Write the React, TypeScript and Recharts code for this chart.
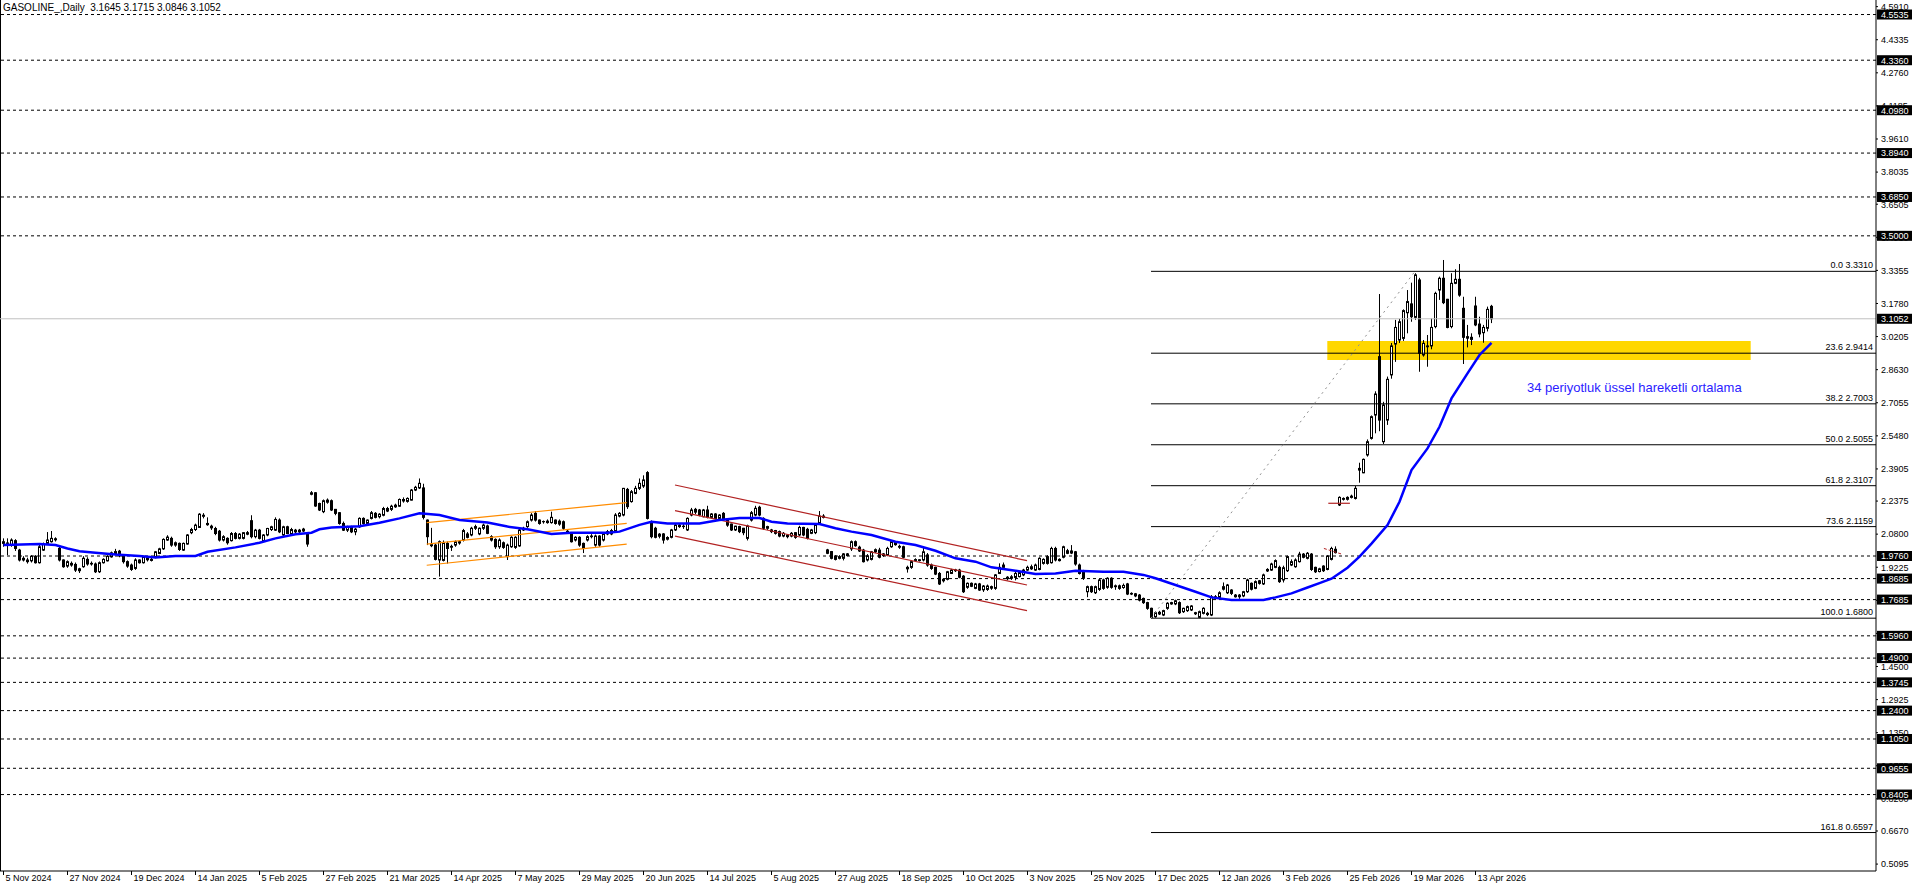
import React from 'react';
import { ComposedChart, Bar, Line, XAxis, YAxis, ReferenceLine, ReferenceArea } from 'recharts';

// ---- OHLC (daily bars, index 0 = 5 Nov 2024) ----
const opens = [
2.036,2.038,2.028,2.049,2.004,1.965,1.949,1.953,1.975,1.944,2.004,2.036,2.044,2.058,2.012,1.957,1.928,1.941,1.936,1.915,
1.925,1.960,1.938,1.938,1.901,1.944,1.953,1.972,1.988,1.999,1.976,1.949,1.933,1.917,1.957,1.944,1.968,1.960,1.969,1.988,
2.010,2.052,2.060,2.028,2.036,2.004,2.033,2.087,2.102,2.112,2.165,2.131,2.118,2.107,2.094,2.052,2.060,2.049,2.083,2.060,
2.060,2.087,2.144,2.068,2.099,2.049,2.076,2.102,2.099,2.147,2.076,2.115,2.083,2.099,2.091,2.095,2.083,2.270,2.277,2.226,
2.187,2.232,2.239,2.198,2.182,2.131,2.099,2.115,2.091,2.115,2.155,2.131,2.155,2.179,2.163,2.170,2.202,2.198,2.210,2.213,
2.245,2.236,2.242,2.290,2.300,2.300,2.147,2.030,2.028,1.957,1.955,2.036,2.022,2.028,2.044,2.052,2.081,2.076,2.108,2.081,
2.108,2.119,2.068,2.055,2.020,2.039,1.973,2.020,2.017,2.024,2.100,2.116,2.147,2.179,2.147,2.139,2.135,2.135,2.147,2.142,
2.139,2.094,2.084,2.052,2.065,2.036,2.052,2.068,2.028,2.071,2.052,2.081,2.081,2.097,2.166,2.171,2.293,2.235,2.274,2.298,
2.309,2.373,2.139,2.108,2.070,2.081,2.056,2.065,2.100,2.123,2.116,2.100,2.171,2.198,2.195,2.163,2.195,2.160,2.176,2.155,
2.179,2.150,2.128,2.100,2.116,2.108,2.060,2.147,2.171,2.208,2.155,2.108,2.100,2.097,2.092,2.071,2.076,2.071,2.087,2.076,
2.112,2.103,2.084,2.087,2.131,2.166,2.005,1.997,1.976,1.965,1.965,1.986,2.010,2.044,2.018,2.004,1.957,1.960,1.996,2.004,
1.978,1.981,2.020,2.040,2.022,2.020,1.922,1.922,1.955,1.958,1.957,1.981,1.933,1.922,1.893,1.858,1.865,1.893,1.910,1.909,
1.880,1.827,1.846,1.822,1.843,1.815,1.817,1.830,1.822,1.893,1.922,1.875,1.870,1.874,1.878,1.886,1.909,1.915,1.909,1.912,
1.941,1.973,1.944,2.012,1.960,1.970,2.001,1.990,1.996,1.933,1.906,1.806,1.830,1.801,1.817,1.862,1.827,1.870,1.830,1.834,
1.826,1.843,1.798,1.796,1.790,1.774,1.754,1.727,1.687,1.708,1.695,1.727,1.754,1.748,1.754,1.711,1.716,1.719,1.706,1.684,
1.703,1.703,1.695,1.782,1.779,1.818,1.801,1.814,1.790,1.782,1.786,1.806,1.846,1.822,1.858,1.843,1.905,1.909,1.922,1.922,
1.862,1.906,1.933,1.925,1.949,1.985,1.965,1.985,1.922,1.902,1.928,1.912,1.960,2.008,2.219,2.250,2.246,2.255,2.250,2.393,
2.372,2.457,2.536,2.647,2.925,2.520,2.623,2.838,2.985,3.004,3.012,3.134,3.176,3.112,3.290,2.933,2.976,2.976,3.068,3.242,
3.298,3.198,3.068,3.274,3.293,3.155,3.020,3.007,3.166,3.080,3.039,3.060,3.1645];
const highs = [
2.060,2.060,2.060,2.056,2.010,1.975,1.968,1.980,1.980,2.030,2.040,2.090,2.095,2.065,2.020,1.960,1.955,1.950,1.945,1.920,
1.975,1.970,1.950,1.945,1.950,1.965,1.980,1.997,2.010,2.005,1.980,1.955,1.940,1.965,1.960,1.975,1.975,1.970,2.000,2.015,
2.060,2.075,2.068,2.045,2.040,2.040,2.080,2.110,2.130,2.180,2.180,2.160,2.125,2.115,2.100,2.075,2.065,2.090,2.090,2.085,
2.090,2.095,2.170,2.105,2.105,2.080,2.110,2.120,2.160,2.155,2.120,2.120,2.110,2.105,2.105,2.110,2.090,2.285,2.280,2.230,
2.245,2.250,2.245,2.200,2.185,2.140,2.120,2.120,2.110,2.160,2.160,2.150,2.190,2.185,2.180,2.210,2.210,2.220,2.225,2.250,
2.255,2.255,2.295,2.310,2.345,2.320,2.150,2.110,2.035,2.050,2.050,2.045,2.030,2.050,2.050,2.105,2.090,2.115,2.125,2.112,
2.130,2.125,2.075,2.060,2.060,2.045,2.035,2.070,2.070,2.105,2.115,2.145,2.180,2.190,2.150,2.145,2.150,2.187,2.150,2.150,
2.145,2.100,2.090,2.070,2.070,2.040,2.075,2.080,2.078,2.075,2.085,2.100,2.105,2.180,2.185,2.300,2.300,2.290,2.310,2.345,
2.360,2.380,2.145,2.115,2.085,2.085,2.070,2.105,2.130,2.130,2.130,2.160,2.205,2.205,2.200,2.200,2.215,2.180,2.180,2.175,
2.185,2.155,2.130,2.120,2.120,2.110,2.125,2.190,2.215,2.215,2.160,2.120,2.105,2.100,2.097,2.090,2.080,2.090,2.090,2.120,
2.115,2.110,2.105,2.130,2.190,2.175,2.010,2.000,1.980,1.980,1.990,1.990,2.050,2.050,2.025,2.010,1.985,2.000,2.012,2.015,
1.990,2.020,2.050,2.045,2.030,2.025,1.930,1.955,1.965,1.960,2.020,1.990,1.940,1.925,1.900,1.870,1.905,1.915,1.915,1.915,
1.885,1.850,1.850,1.848,1.848,1.838,1.840,1.835,1.890,1.941,1.945,1.880,1.885,1.900,1.905,1.915,1.930,1.935,1.940,1.970,
1.965,1.980,2.020,2.020,1.965,2.025,2.010,2.028,2.000,1.940,1.910,1.835,1.835,1.835,1.868,1.868,1.875,1.875,1.840,1.840,
1.845,1.848,1.803,1.800,1.795,1.778,1.758,1.730,1.712,1.715,1.720,1.756,1.758,1.768,1.760,1.730,1.740,1.742,1.710,1.716,
1.732,1.710,1.790,1.790,1.808,1.850,1.843,1.818,1.795,1.795,1.810,1.868,1.850,1.860,1.862,1.892,1.918,1.944,1.960,1.930,
1.930,1.978,1.960,1.965,1.996,1.990,1.995,1.990,1.925,1.920,1.932,1.980,2.020,2.022,2.260,2.255,2.260,2.268,2.309,2.420,
2.440,2.531,2.645,2.760,3.223,2.710,2.830,2.990,3.100,3.105,3.150,3.242,3.277,3.322,3.300,3.004,3.028,3.107,3.234,3.306,
3.385,3.200,3.322,3.341,3.366,3.210,3.076,3.036,3.210,3.115,3.076,3.163,3.1715];
const lows = [
2.020,1.980,2.020,2.000,1.950,1.950,1.940,1.945,1.940,1.940,2.000,2.030,2.040,2.045,1.950,1.920,1.920,1.925,1.900,1.895,
1.920,1.930,1.930,1.895,1.895,1.940,1.950,1.968,1.985,1.970,1.940,1.920,1.905,1.910,1.940,1.940,1.950,1.950,1.965,1.985,
2.005,2.048,2.020,2.020,2.000,2.000,2.030,2.080,2.095,2.110,2.155,2.120,2.100,2.075,2.045,2.045,2.030,2.045,2.055,2.055,
2.055,2.075,2.060,2.060,2.055,2.045,2.070,2.095,2.095,2.085,2.070,2.080,2.080,2.085,2.085,2.090,2.020,2.265,2.210,2.190,
2.180,2.225,2.190,2.170,2.125,2.095,2.090,2.085,2.075,2.110,2.125,2.125,2.150,2.155,2.155,2.165,2.185,2.190,2.205,2.210,
2.230,2.230,2.240,2.285,2.295,2.150,2.028,2.018,1.955,1.878,1.950,1.940,2.000,2.020,2.030,2.045,2.060,2.070,2.100,2.075,
2.100,2.080,2.045,2.010,2.010,2.010,1.957,2.015,2.010,2.020,2.095,2.110,2.140,2.140,2.125,2.130,2.130,2.130,2.125,2.120,
2.100,2.085,2.040,2.045,2.020,1.990,2.045,2.060,2.020,2.020,2.045,2.075,2.075,2.090,2.160,2.165,2.200,2.230,2.270,2.290,
2.300,2.150,2.060,2.060,2.060,2.035,2.050,2.060,2.095,2.110,2.105,2.095,2.165,2.175,2.165,2.160,2.155,2.155,2.150,2.150,
2.145,2.115,2.095,2.095,2.085,2.075,2.050,2.140,2.165,2.165,2.100,2.100,2.085,2.078,2.065,2.065,2.060,2.065,2.058,2.070,
2.070,2.055,2.080,2.080,2.125,2.155,1.985,1.960,1.955,1.960,1.955,1.975,2.000,2.020,1.995,1.945,1.950,1.955,1.990,1.965,
1.972,1.975,2.015,2.025,2.010,1.965,1.897,1.915,1.950,1.950,1.950,1.925,1.910,1.885,1.838,1.850,1.860,1.890,1.900,1.870,
1.800,1.820,1.828,1.818,1.810,1.805,1.810,1.815,1.815,1.890,1.918,1.860,1.862,1.860,1.874,1.880,1.905,1.910,1.905,1.908,
1.935,1.935,1.940,1.950,1.950,1.965,1.985,1.985,1.930,1.888,1.862,1.780,1.800,1.795,1.810,1.815,1.820,1.820,1.815,1.815,
1.820,1.790,1.790,1.780,1.760,1.748,1.720,1.680,1.682,1.695,1.690,1.720,1.744,1.742,1.700,1.705,1.710,1.714,1.695,1.680,
1.698,1.690,1.690,1.770,1.775,1.812,1.795,1.790,1.778,1.772,1.780,1.800,1.812,1.818,1.840,1.838,1.900,1.905,1.918,1.848,
1.850,1.900,1.928,1.920,1.945,1.965,1.960,1.905,1.895,1.898,1.900,1.908,1.955,1.988,2.214,2.240,2.240,2.250,2.245,2.325,
2.370,2.449,2.530,2.560,2.570,2.509,2.600,2.820,2.900,2.990,3.000,3.036,3.091,3.100,2.853,2.925,2.877,2.960,3.060,3.195,
3.175,3.060,3.060,3.270,3.210,2.890,2.969,2.980,3.070,3.017,2.991,3.045,3.0846];
const closes = [
2.044,2.036,2.052,2.012,1.957,1.957,1.957,1.975,1.944,2.020,2.033,2.052,2.060,2.053,1.957,1.925,1.949,1.933,1.909,1.906,
1.965,1.938,1.941,1.901,1.944,1.960,1.975,1.991,1.997,1.976,1.949,1.928,1.912,1.957,1.944,1.969,1.958,1.955,1.996,2.010,
2.055,2.066,2.028,2.039,2.007,2.036,2.076,2.102,2.123,2.175,2.170,2.125,2.110,2.083,2.052,2.068,2.039,2.083,2.060,2.080,
2.087,2.080,2.068,2.099,2.060,2.076,2.107,2.115,2.150,2.091,2.115,2.083,2.102,2.091,2.099,2.104,2.033,2.277,2.214,2.195,
2.239,2.242,2.195,2.179,2.131,2.099,2.115,2.091,2.104,2.155,2.131,2.147,2.182,2.160,2.175,2.202,2.190,2.213,2.218,2.245,
2.238,2.250,2.290,2.303,2.322,2.160,2.068,2.025,1.960,2.044,2.040,2.012,2.018,2.044,2.038,2.097,2.065,2.108,2.116,2.108,
2.123,2.084,2.052,2.020,2.052,2.017,2.028,2.065,2.065,2.100,2.108,2.139,2.171,2.147,2.131,2.140,2.142,2.160,2.131,2.128,
2.108,2.090,2.044,2.065,2.028,2.012,2.068,2.071,2.071,2.028,2.081,2.092,2.097,2.171,2.179,2.298,2.211,2.282,2.298,2.322,
2.338,2.155,2.068,2.065,2.080,2.052,2.064,2.100,2.123,2.116,2.118,2.155,2.195,2.185,2.171,2.195,2.160,2.176,2.155,2.171,
2.150,2.123,2.100,2.118,2.092,2.087,2.119,2.182,2.203,2.171,2.108,2.116,2.092,2.084,2.071,2.084,2.068,2.084,2.065,2.112,
2.076,2.060,2.100,2.124,2.166,2.160,1.989,1.965,1.960,1.973,1.986,1.978,2.044,2.025,2.000,1.949,1.977,1.996,2.006,1.970,
1.986,2.012,2.044,2.030,2.018,1.970,1.915,1.949,1.959,1.954,1.996,1.933,1.917,1.890,1.843,1.865,1.901,1.909,1.906,1.875,
1.806,1.846,1.832,1.843,1.814,1.833,1.833,1.823,1.886,1.922,1.933,1.868,1.877,1.893,1.897,1.909,1.922,1.925,1.933,1.965,
1.960,1.941,2.012,1.957,1.954,2.020,1.989,2.000,1.938,1.893,1.870,1.830,1.806,1.830,1.862,1.822,1.870,1.827,1.834,1.822,
1.836,1.795,1.795,1.786,1.766,1.754,1.727,1.684,1.706,1.700,1.716,1.751,1.748,1.763,1.706,1.727,1.735,1.738,1.701,1.711,
1.727,1.697,1.782,1.776,1.801,1.830,1.838,1.798,1.782,1.790,1.806,1.862,1.818,1.854,1.846,1.886,1.912,1.938,1.954,1.854,
1.920,1.973,1.949,1.957,1.985,1.970,1.989,1.912,1.901,1.915,1.906,1.976,2.012,1.992,2.255,2.246,2.255,2.261,2.298,2.385,
2.436,2.520,2.639,2.747,2.623,2.695,2.817,2.976,3.064,3.091,3.144,3.187,3.115,3.314,2.941,2.988,2.972,3.064,3.226,3.298,
3.182,3.064,3.274,3.293,3.218,3.017,3.013,3.017,3.076,3.033,3.064,3.150,3.1052];

// ---- 34-period EMA at selected bars ----
const emaBars = [0,9,13,16,19,23,28,34,38,43,48,51,58,64,68,73,77,79,82,89,94,99,104,109,114,121,126,131,137,142,151,154,159,162,166,174,179,184,189,192,196,204,208,212,217,223,228,233,238,243,247,253,258,263,268,275,280,285,288,293,298,302,307,315,318,322,326,329,332,336,339,342,346,349,352,356,359,362,366,369,372];
const emaValues = [2.028,2.033,2.028,2.012,1.999,1.991,1.983,1.976,1.969,1.976,1.976,1.996,2.017,2.039,2.060,2.080,2.087,2.103,2.112,2.118,2.134,2.155,2.179,2.171,2.147,2.135,2.116,2.103,2.081,2.087,2.087,2.092,2.124,2.139,2.131,2.131,2.147,2.157,2.157,2.139,2.131,2.128,2.108,2.092,2.076,2.044,2.028,2.001,1.965,1.949,1.922,1.906,1.890,1.893,1.906,1.901,1.901,1.886,1.870,1.838,1.806,1.779,1.767,1.767,1.779,1.798,1.826,1.847,1.868,1.920,1.973,2.035,2.123,2.234,2.385,2.488,2.591,2.726,2.845,2.933,2.991];

// ---- axes ----
const dateBars = [0,16,32,48,64,80,96,112,128,144,160,176,192,208,224,240,256,272,288,304,320,336,352,368];
const dateLabels = ['5 Nov 2024','27 Nov 2024','19 Dec 2024','14 Jan 2025','5 Feb 2025','27 Feb 2025','21 Mar 2025','14 Apr 2025','7 May 2025','29 May 2025','20 Jun 2025','14 Jul 2025','5 Aug 2025','27 Aug 2025','18 Sep 2025','10 Oct 2025','3 Nov 2025','25 Nov 2025','17 Dec 2025','12 Jan 2026','3 Feb 2026','25 Feb 2026','19 Mar 2026','13 Apr 2026'];
const priceTicks = [4.5910,4.4335,4.2760,4.1185,3.9610,3.8035,3.6505,3.4930,3.3355,3.1780,3.0205,2.8630,2.7055,2.5480,2.3905,2.2375,2.0800,1.9225,1.7650,1.6075,1.4500,1.2925,1.1350,0.9775,0.8200,0.6670,0.5095];

// ---- horizontal levels ----
const levels = [4.5535,4.3360,4.0980,3.8940,3.6850,3.5000,1.9760,1.8685,1.7685,1.5960,1.4900,1.3745,1.2400,1.1050,0.9655,0.8405];
const lastPrice = 3.1052;

// ---- fibonacci ----
const fibPct = ['0.0','23.6','38.2','50.0','61.8','73.6','100.0','161.8'];
const fibValues = [3.3310,2.9414,2.7003,2.5055,2.3107,2.1159,1.6800,0.6597];
const fibStartBar = 286.875;
const fibDiag = [286.875, 1.680, 352.875, 3.331];

// ---- channels: [x1, y1, x2, y2] ----
const orangeChannel = [[105.8,2.135,155.8,2.230],[105.8,2.033,155.8,2.131],[105.8,1.932,155.8,2.033]];
const redChannel = [[167.875,2.314,255.875,1.954],[167.875,2.192,255.875,1.838],[167.875,2.071,255.875,1.716]];
const smallRedLine = [331.2,2.227,336.6,2.227];
const smallRedDash = [330.1,2.012,334.55,1.985];

// ---- zone & annotation ----
const zone = [330.95, 436.8, 2.909, 2.999];
const annotation = { x: 380.875, y: 2.7566, text: '34 periyotluk üssel hareketli ortalama' };
const title = 'GASOLINE_,Daily  3.1645 3.1715 3.0846 3.1052';

const X_DOMAIN: [number, number] = [-0.875, 468.125];
const Y_DOMAIN: [number, number] = [0.4766, 4.6226];
const FONT = '"Liberation Sans", Arial, sans-serif';

const data = opens.map((o, i) => ({
  i, o, h: highs[i], l: lows[i], c: closes[i],
  range: [lows[i], highs[i]] as [number, number],
  ema: null as number | null,
}));
emaBars.forEach((b, k) => { data[b].ema = emaValues[k]; });

const Candle = (props: any) => {
  const { x, y, width, height, payload } = props;
  if (payload == null || x == null || y == null) return null;
  const cx = Math.round(x + width / 2 - 0.5) + 0.5;
  const top = Math.min(y, y + height);
  const bot = Math.max(y, y + height);
  const { o, h, l, c } = payload;
  const span = h - l || 1e-9;
  const py = (v: number) => top + ((h - v) / span) * (bot - top);
  const yo = py(o), yc = py(c);
  const bt = Math.min(yo, yc), bb = Math.max(yo, yc);
  const up = c >= o;
  return (
    <g>
      <line x1={cx} x2={cx} y1={top} y2={bot} stroke="#000" strokeWidth={1} />
      <rect x={cx - 1} y={bt} width={2} height={Math.max(bb - bt, 0.01)} fill={up ? '#fff' : '#000'} stroke="#000" strokeWidth={1} />
    </g>
  );
};

const isLevel = (v: number) => levels.some(l => Math.abs(l - v) < 1e-6) || Math.abs(v - lastPrice) < 1e-6;

const PriceTick = (props: any) => {
  const { x, y, payload } = props;
  const v = payload.value as number;
  if (isLevel(v)) {
    return (
      <g>
        <rect x={x + 1} y={y - 5} width={35} height={10} fill="#000" />
        <text x={x + 5} y={y + 3.3} fill="#fff" fontSize={9} fontFamily={FONT}>{v.toFixed(4)}</text>
      </g>
    );
  }
  return (
    <g>
      <line x1={x} x2={x + 2} y1={y} y2={y} stroke="#000" />
      <text x={x + 5} y={y + 3.3} fill="#000" fontSize={9} fontFamily={FONT}>{v.toFixed(4)}</text>
    </g>
  );
};

const DateTick = (props: any) => {
  const { x, y, payload } = props;
  const idx = dateBars.indexOf(payload.value);
  return (
    <g>
      <line x1={x} x2={x} y1={y} y2={y + 4} stroke="#000" />
      <text x={x + 2} y={y + 10} fill="#000" fontSize={9} fontFamily={FONT}>{idx >= 0 ? dateLabels[idx] : ''}</text>
    </g>
  );
};

const FibLabel = (props: any) => {
  const vb = props.viewBox || {};
  return (
    <text x={(vb.x ?? 0) + (vb.width ?? 0) - 3} y={(vb.y ?? 0) - 3} textAnchor="end" fill="#000" fontSize={9} fontFamily={FONT}>{props.text}</text>
  );
};

const NoteLabel = (props: any) => {
  const vb = props.viewBox || {};
  return (
    <text x={vb.x ?? 0} y={vb.y ?? 0} fill="#2b1cff" fontSize={13} fontFamily={FONT}>{props.text}</text>
  );
};

export default function App() {
  const allTicks = [...priceTicks, ...levels, lastPrice];
  return (
    <div style={{ position: 'absolute', left: 0, top: 0, width: 1916, height: 888, background: '#fff', overflow: 'hidden' }}>
      <ComposedChart width={1916} height={888} data={data} margin={{ top: 0, right: 0, bottom: 0, left: 0 }}>
        <XAxis dataKey="i" type="number" domain={X_DOMAIN} allowDataOverflow ticks={dateBars} interval={0}
          tick={<DateTick />} tickLine={false} tickSize={0} tickMargin={0} height={17}
          axisLine={{ stroke: '#000' }} />
        <YAxis orientation="right" type="number" domain={Y_DOMAIN} allowDataOverflow ticks={allTicks} interval={0}
          tick={<PriceTick />} tickLine={false} tickSize={0} tickMargin={0} width={40}
          axisLine={{ stroke: '#000' }} />
        <ReferenceArea x1={zone[0]} x2={zone[1]} y1={zone[2]} y2={zone[3]} fill="#FFD700" fillOpacity={1} stroke="none" ifOverflow="visible" />
        <ReferenceLine x={-0.75} stroke="#000" ifOverflow="visible" />
        {levels.map(v => (
          <ReferenceLine key={'lv' + v} y={v} stroke="#000" strokeDasharray="3 3" />
        ))}
        <ReferenceLine y={lastPrice} stroke="#c0c0c0" />
        {fibValues.map((v, k) => (
          <ReferenceLine key={'fib' + k} segment={[{ x: fibStartBar, y: v }, { x: X_DOMAIN[1], y: v }]} stroke="#000"
            ifOverflow="visible" label={<FibLabel text={fibPct[k] + ' ' + v.toFixed(4)} />} />
        ))}
        <ReferenceLine segment={[{ x: fibDiag[0], y: fibDiag[1] }, { x: fibDiag[2], y: fibDiag[3] }]} stroke="#909090" strokeDasharray="2 4" ifOverflow="visible" />
        {orangeChannel.map((s, k) => (
          <ReferenceLine key={'or' + k} segment={[{ x: s[0], y: s[1] }, { x: s[2], y: s[3] }]} stroke="#FF8C00" strokeWidth={1.2} ifOverflow="visible" />
        ))}
        {redChannel.map((s, k) => (
          <ReferenceLine key={'rd' + k} segment={[{ x: s[0], y: s[1] }, { x: s[2], y: s[3] }]} stroke="#B22222" strokeWidth={1.2} ifOverflow="visible" />
        ))}
        <ReferenceLine segment={[{ x: smallRedLine[0], y: smallRedLine[1] }, { x: smallRedLine[2], y: smallRedLine[3] }]} stroke="#B22222" strokeWidth={1.2} ifOverflow="visible" />
        <ReferenceLine segment={[{ x: smallRedDash[0], y: smallRedDash[1] }, { x: smallRedDash[2], y: smallRedDash[3] }]} stroke="#B22222" strokeDasharray="3 2" ifOverflow="visible" />
        <ReferenceLine segment={[{ x: annotation.x, y: annotation.y }, { x: annotation.x + 1, y: annotation.y }]} stroke="none" strokeOpacity={0}
          ifOverflow="visible" label={<NoteLabel text={annotation.text} />} />
        <Bar dataKey="range" barSize={3} shape={<Candle />} isAnimationActive={false} />
        <Line dataKey="ema" type="linear" stroke="#0000FF" strokeWidth={2.5} dot={false} connectNulls isAnimationActive={false} activeDot={false} />
      </ComposedChart>
      <div style={{ position: 'absolute', left: 3, top: 3, fontSize: 10, lineHeight: '10px', fontFamily: FONT, color: '#000', whiteSpace: 'pre', pointerEvents: 'none' }}>{title}</div>
    </div>
  );
}
